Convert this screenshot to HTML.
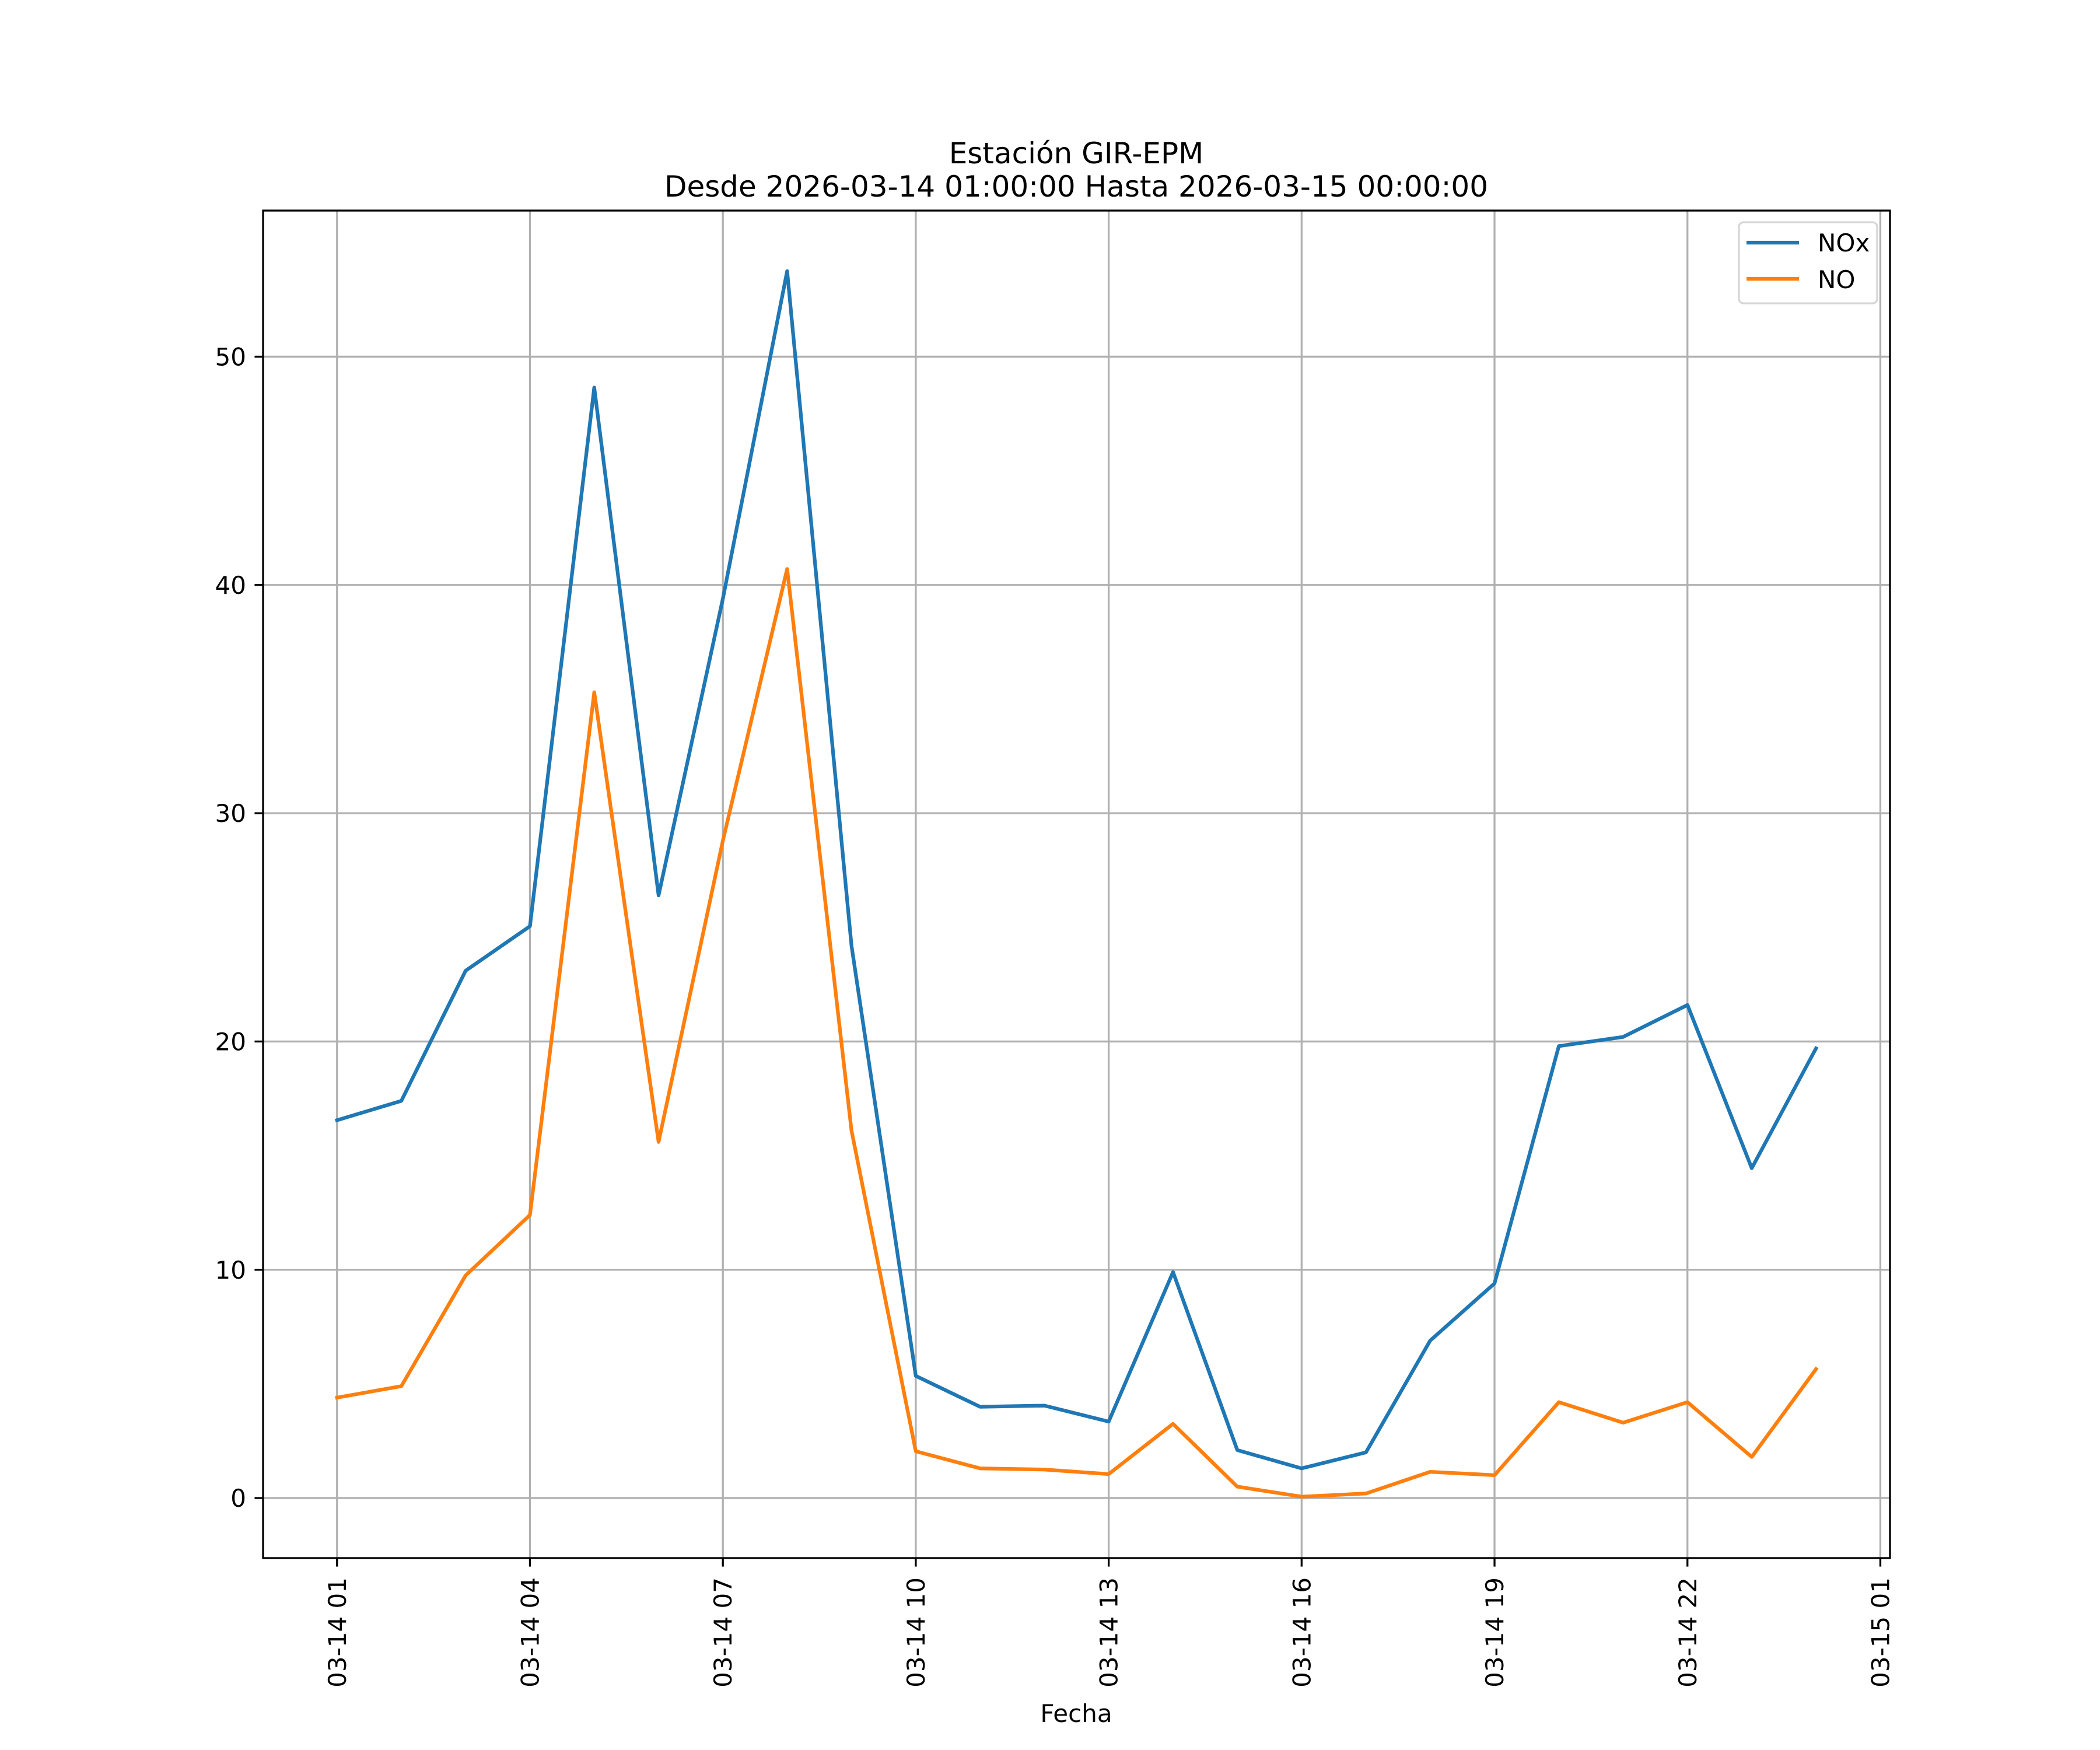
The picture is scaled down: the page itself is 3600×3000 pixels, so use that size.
<!DOCTYPE html>
<html><head><meta charset="utf-8"><style>
html,body{margin:0;padding:0;background:#fff}
svg{display:block;font-family:"DejaVu Sans","Liberation Sans",sans-serif}
</style></head><body>
<svg id="chart" width="3600" height="3000" viewBox="0 0 3600 3000" xmlns="http://www.w3.org/2000/svg">
<rect width="3600" height="3000" fill="#fff"/>
<g id="grid"></g>
<g id="series"></g>
<rect x="451" y="361" width="2789" height="2310" fill="none" stroke="#000" stroke-width="3.3"/>
<g id="ticks"></g>
<text x="1845" y="280" font-size="50" text-anchor="middle">Estación GIR-EPM</text>
<text x="1845" y="337" font-size="50" text-anchor="middle">Desde 2026-03-14 01:00:00 Hasta 2026-03-15 00:00:00</text>
<text x="1845" y="2952" font-size="42" text-anchor="middle">Fecha</text>
<g>
<rect x="2981" y="381" width="237" height="139" rx="8" fill="#fff" fill-opacity="0.8" stroke="#d6d6d6" stroke-width="3.3"/>
<line x1="2994" y1="416" x2="3084" y2="416" stroke="#1f77b4" stroke-width="6.25"/>
<text x="3116" y="431" font-size="42">NOx</text>
<line x1="2994" y1="478" x2="3084" y2="478" stroke="#ff7f0e" stroke-width="6.25"/>
<text x="3116" y="494" font-size="42">NO</text>
</g>
</svg>
<script>
const hours = [1,2,3,4,5,6,7,8,9,10,11,12,13,14,15,16,17,18,19,20,21,22,23,24];
const noxValues = [16.55,17.4,23.1,25.05,48.65,26.4,39.4,53.75,24.2,5.35,4.0,4.05,3.35,9.9,2.1,1.3,2.0,6.9,9.4,19.8,20.2,21.6,14.45,19.7];
const noValues = [4.4,4.9,9.75,12.4,35.3,15.6,28.8,40.7,16.1,2.05,1.3,1.25,1.05,3.25,0.5,0.06,0.2,1.15,1.0,4.2,3.3,4.2,1.8,5.65];
const xTickHours = [1,4,7,10,13,16,19,22,25];
const xTickLabels = ["03-14 01","03-14 04","03-14 07","03-14 10","03-14 13","03-14 16","03-14 19","03-14 22","03-15 01"];
const yTicks = [0,10,20,30,40,50];

const L=451,R=3240,T=361,B=2671;
const xMin=-0.15,xMax=25.15,yMin=-2.63,yMax=56.4;
function xs(h){return L+(h-xMin)/(xMax-xMin)*(R-L);}
function ys(v){return B-(v-yMin)/(yMax-yMin)*(B-T);}
const NS="http://www.w3.org/2000/svg";
function mk(tag,attrs,parent){const e=document.createElementNS(NS,tag);for(const k in attrs)e.setAttribute(k,attrs[k]);parent.appendChild(e);return e;}
const grid=document.getElementById('grid'),ticks=document.getElementById('ticks'),series=document.getElementById('series');
xTickHours.forEach((h,i)=>{
  const x=xs(h);
  const g=mk('line',{x1:x,y1:T,x2:x,y2:B,stroke:'#b0b0b0','stroke-width':3.3},grid);
  
  
  const t=mk('line',{x1:x,y1:B,x2:x,y2:B+14.6,stroke:'#000','stroke-width':3.3},ticks);
  
  
  const lb=mk('text',{x:0,y:0,'font-size':42,'text-anchor':'end',transform:`translate(${x+15},${B+33}) rotate(-90)`},ticks);
  lb.textContent=xTickLabels[i];
  
  
});
yTicks.forEach(v=>{
  const y=ys(v);
  const g=mk('line',{x1:L,y1:y,x2:R,y2:y,stroke:'#b0b0b0','stroke-width':3.3},grid);
  
  
  const t=mk('line',{x1:L-14.6,y1:y,x2:L,y2:y,stroke:'#000','stroke-width':3.3},ticks);
  
  
  const lb=mk('text',{x:L-29,y:y+15,'font-size':42,'text-anchor':'end'},ticks);
  lb.textContent=String(v);
  
  
});
function line(vals,color,name){
  const d=vals.map((v,i)=>(i?'L':'M')+xs(hours[i]).toFixed(1)+' '+ys(v).toFixed(1)).join(' ');
  const p=mk('path',{d:d,fill:'none',stroke:color,'stroke-width':6.25,'stroke-linejoin':'round','stroke-linecap':'square'},series);
  
  
}
line(noxValues,'#1f77b4','nox-line');
line(noValues,'#ff7f0e','no-line');
</script>
</body></html>
